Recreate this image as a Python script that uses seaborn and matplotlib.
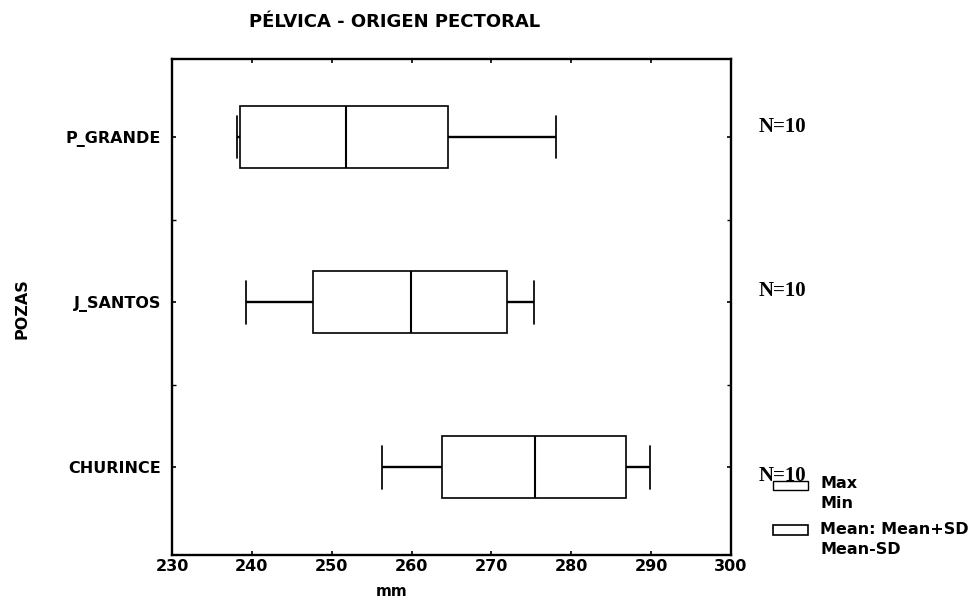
import numpy as np
import pandas as pd
import matplotlib
matplotlib.use("Agg")
import matplotlib.pyplot as plt
from matplotlib.patches import Rectangle
import seaborn as sns

# ---- data ----
groups = ["P_GRANDE", "J_SANTOS", "CHURINCE"]
mins = [238.2, 239.3, 256.3]
mean_minus_sd = [238.5, 247.7, 263.8]
means = [251.8, 259.9, 275.4]
mean_plus_sd = [264.6, 272.0, 286.9]
maxs = [278.1, 275.3, 289.8]
n_obs = [10, 10, 10]
x_ticks = [230, 240, 250, 260, 270, 280, 290, 300]

title = "PÉLVICA - ORIGEN PECTORAL"
x_label = "mm"
y_label = "POZAS"

# long-form table: five summary values per group -> quartiles = mean±SD,
# median = mean, whiskers (0..100 %) = min / max
rows = []
for g, a, b, c, d, e in zip(groups, mins, mean_minus_sd, means, mean_plus_sd, maxs):
    for v in (a, b, c, d, e):
        rows.append({"POZAS": g, "mm": v})
df = pd.DataFrame(rows)

sns.set_style("ticks")
plt.rcParams["font.family"] = ["DejaVu Sans"]
for k in ("text.color", "axes.labelcolor", "xtick.color", "ytick.color",
          "axes.edgecolor"):
    plt.rcParams[k] = "black"

W, H = 976, 604
fig = plt.figure(figsize=(W / 100, H / 100), dpi=100)
ax = fig.add_axes([172 / W, 1 - 555 / H, 559 / W, 496 / H])

CAP_LW = 1.25
sns.boxplot(
    data=df, x="mm", y="POZAS", order=groups, orient="h", ax=ax,
    whis=(0, 100), width=0.38, color="white", linecolor="black",
    linewidth=1.2, showfliers=False,
    whiskerprops={"linewidth": 1.7},
    capprops={"linewidth": CAP_LW},
    medianprops={"linewidth": 1.5},
)

# shorten caps relative to box height (caps identified by their line width)
for line in ax.lines:
    if abs(line.get_linewidth() - CAP_LW) < 1e-6:
        yd = np.asarray(line.get_ydata(), dtype=float)
        c = yd.mean()
        half = 0.13
        line.set_ydata([c - half, c + half])

ax.set_xlim(230, 300)
ax.set_ylim(2.533, -0.473)
ax.set_xticks(x_ticks)
ax.set_xticklabels([str(t) for t in x_ticks])
ax.set_xlabel("")
ax.set_ylabel("")
for s in ax.spines.values():
    s.set_visible(True)
    s.set_linewidth(1.7)
    s.set_color("black")

ax.tick_params(axis="x", direction="in", top=True, bottom=True, length=3,
               width=1.2, pad=3, labelsize=11.5)
ax.tick_params(axis="y", direction="in", left=True, right=True, length=3,
               width=1.2, pad=8, labelsize=11.5)
ax.set_yticks([0.5, 1.5], minor=True)
ax.tick_params(axis="y", which="minor", direction="in", left=True, right=True,
               length=3, width=1.0)
for lab in ax.get_xticklabels() + ax.get_yticklabels():
    lab.set_fontweight("bold")

# titles / axis labels
fig.text(395 / W, 1 - 22 / H, title, ha="center", va="center",
         fontsize=13, fontweight="bold")
fig.text(392 / W, 1 - 591 / H, x_label, ha="center", va="center",
         fontsize=11, fontweight="bold")
fig.text(22 / W, 1 - 309 / H, y_label, ha="center", va="center",
         rotation=90, fontsize=11.5, fontweight="bold")

# N= labels
n_label_y = [127, 291, 476]
for n, py in zip(n_obs, n_label_y):
    fig.text(759 / W, 1 - py / H, f"N={n}", ha="left", va="center",
             fontsize=15, fontweight="bold",
             family=["Liberation Serif", "DejaVu Serif"])

# legend
fig.add_artist(Rectangle((773 / W, 1 - 490 / H), 35 / W, 9 / H, fill=False,
                         edgecolor="black", linewidth=1.0,
                         transform=fig.transFigure))
fig.add_artist(Rectangle((773 / W, 1 - 535 / H), 35 / W, 10 / H, fill=False,
                         edgecolor="black", linewidth=1.2,
                         transform=fig.transFigure))
for txt, py in [("Max", 484), ("Min", 504), ("Mean: Mean+SD", 530),
                ("Mean-SD", 550)]:
    fig.text(820 / W, 1 - py / H, txt, ha="left", va="center",
             fontsize=11.5, fontweight="bold")

fig.savefig("out.png", dpi=100, facecolor="white")
